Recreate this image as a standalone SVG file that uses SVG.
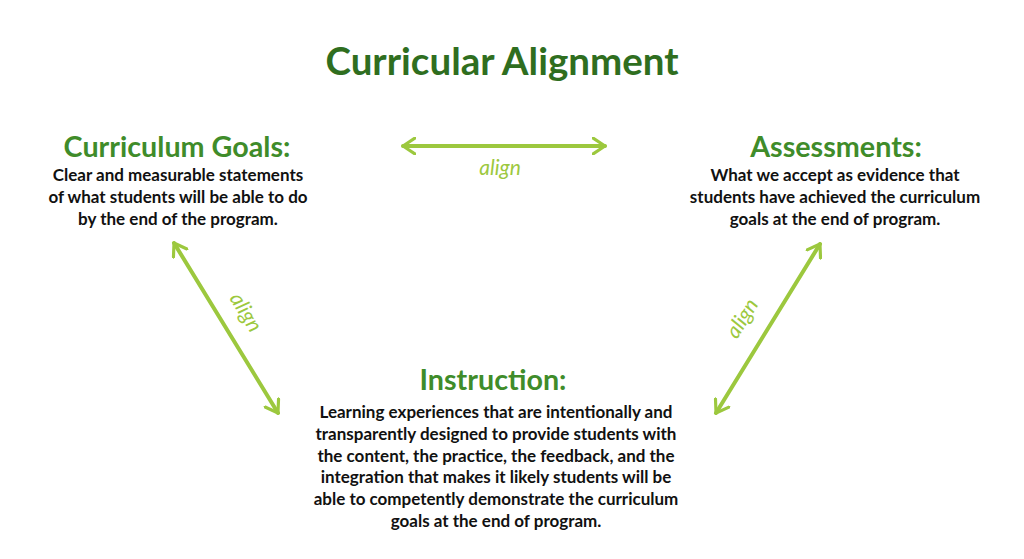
<svg xmlns="http://www.w3.org/2000/svg" width="1024" height="559" viewBox="0 0 1024 559">
<defs>
<style>
text{font-family:Lato,"Open Sans","Liberation Sans",sans-serif;text-anchor:middle}
.title{font-size:38.5px;font-weight:bold;fill:#2f6e1f}
.head{font-size:28.7px;font-weight:bold;fill:#3f8c2a}
.body{font-size:17px;font-weight:bold;fill:#111}
.lbl{font-size:21px;font-style:italic;fill:#9cc83e}
.arr{stroke:#9cc83e;stroke-width:4;fill:none;stroke-linecap:round}
</style>
<marker id="ah" viewBox="0 0 12 14" refX="10" refY="7" markerWidth="4" markerHeight="4.6" orient="auto-start-reverse" markerUnits="strokeWidth">
<path d="M1,1 L10,7 L1,13" fill="none" stroke="#9cc83e" stroke-width="2.4" stroke-linecap="round" stroke-linejoin="round"/>
</marker>
</defs>
<rect width="1024" height="559" fill="#fff"/>
<text class="title" x="502" y="75">Curricular Alignment</text>
<g id="goals">
<text class="head" x="177" y="157">Curriculum Goals:</text>
<text class="body" x="178" y="181">Clear and measurable statements</text>
<text class="body" x="178" y="203">of what students will be able to do</text>
<text class="body" x="178" y="225">by the end of the program.</text>
</g>
<g id="assess">
<text class="head" x="836" y="157">Assessments:</text>
<text class="body" x="835" y="181">What we accept as evidence that</text>
<text class="body" x="835" y="203">students have achieved the curriculum</text>
<text class="body" x="835" y="225">goals at the end of program.</text>
</g>
<g id="instruction">
<text class="head" x="493" y="390">Instruction:</text>
<text class="body" x="496" y="418">Learning experiences that are intentionally and</text>
<text class="body" x="496" y="440">transparently designed to provide students with</text>
<text class="body" x="496" y="462">the content, the practice, the feedback, and the</text>
<text class="body" x="496" y="483">integration that makes it likely students will be</text>
<text class="body" x="496" y="505">able to competently demonstrate the curriculum</text>
<text class="body" x="496" y="527">goals at the end of program.</text>
</g>
<g id="connectors">
<line class="arr" x1="403" y1="146" x2="605" y2="146" marker-start="url(#ah)" marker-end="url(#ah)"/>
<text class="lbl" x="500" y="175">align</text>
<line class="arr" x1="174" y1="243" x2="278" y2="413" marker-start="url(#ah)" marker-end="url(#ah)"/>
<text class="lbl" transform="translate(240,316) rotate(58)">align</text>
<line class="arr" x1="820" y1="244" x2="716" y2="413" marker-start="url(#ah)" marker-end="url(#ah)"/>
<text class="lbl" transform="translate(748,322) rotate(-58)">align</text>
</g>
</svg>
